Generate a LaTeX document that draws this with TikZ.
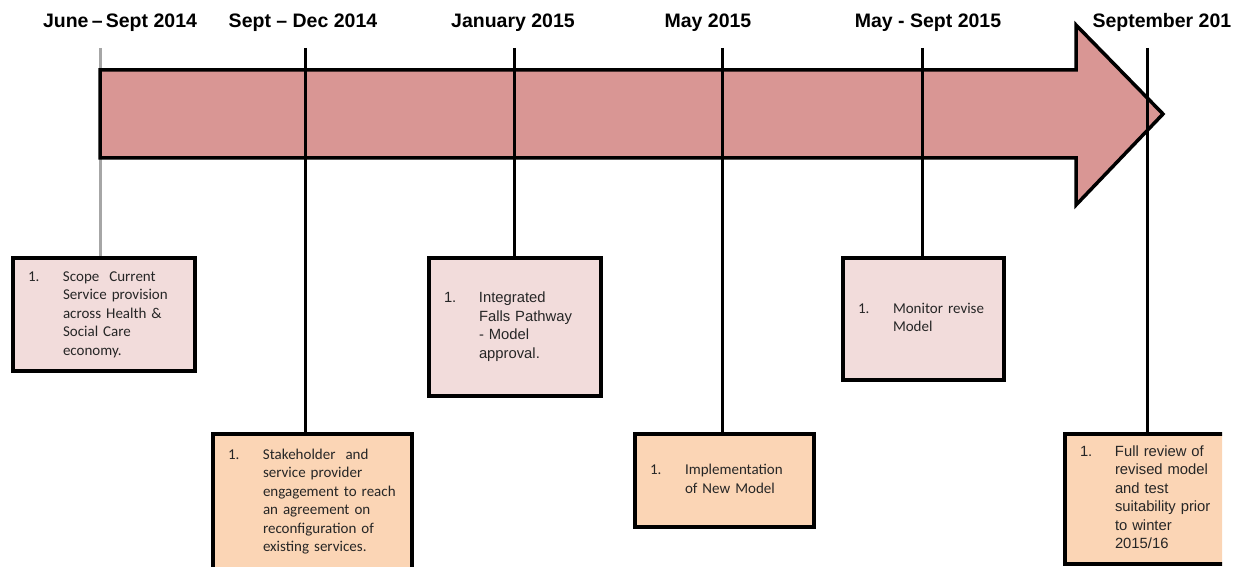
\documentclass[tikz,border=0pt]{standalone}
\usepackage{fontspec}
\setmainfont{Liberation Sans}
\newfontfamily\calfont{Carlito}
\usetikzlibrary{positioning}

\definecolor{arrowred}{RGB}{217,150,148}
\definecolor{stagepink}{RGB}{242,220,219}
\definecolor{stagepeach}{RGB}{251,213,181}

\tikzset{
  datelabel/.style={font=\fontsize{19.5}{22}\selectfont\bfseries, anchor=base},
  stage/.style={draw, line width=4pt, inner xsep=15pt, inner ysep=0pt,
                anchor=north west, text=black!85, align=left},
  milestone/.style={line width=3pt},
}
\newcommand{\firstitem}[1]{\makebox[35pt][l]{1.}\begin{tabular}[t]{@{}l@{}}#1\end{tabular}}

\begin{document}
\begin{tikzpicture}[x=1pt, y=-1pt]

    \useasboundingbox (0, 0) rectangle (1235, 567);
    \clip (0, 0) rectangle (1235, 567);

    % Dates
    \node[datelabel] (d1) at (120, 28) {June\,--\,Sept 2014};
    \node[datelabel] (d2) at (303, 28) {Sept -- Dec 2014};
    \node[datelabel] (d3) at (513, 28) {January 2015};
    \node[datelabel] (d4) at (708, 28) {May 2015};
    \node[datelabel] (d5) at (928, 28) {May - Sept 2015};
    \node[datelabel, anchor=base west] (d6) at (1089, 28) {September 201};

    \coordinate (t1) at (100, 48);
    \coordinate (t2) at (305, 48);
    \coordinate (t3) at (514, 48);
    \coordinate (t4) at (722, 48);
    \coordinate (t5) at (922, 48);
    \coordinate (t6) at (1147, 48);

    % Stages
    \node[stage, fill=stagepink, text width=152pt, minimum height=113pt,
          font=\calfont\fontsize{15}{18.5}\selectfont] (s1) at (11, 256)
        {\firstitem{Scope\ \ Current\\Service provision\\across Health \&\\Social Care\\economy.}};
    \node[stage, fill=stagepeach, text width=169pt, minimum height=136pt,
          font=\calfont\fontsize{15}{18.5}\selectfont] (s2) at (211, 432)
        {\firstitem{Stakeholder\ \ and\\service provider\\engagement\ to reach\\an agreement\ on\\reconfiguration\ of\\existing services.}};
    \node[stage, fill=stagepink, text width=142pt, minimum height=138pt,
          font=\fontsize{14.8}{18.5}\selectfont] (s3) at (427, 256)
        {\firstitem{Integrated\\Falls Pathway\\- Model\\approval.}};
    \node[stage, fill=stagepeach, text width=149pt, minimum height=93pt,
          font=\calfont\fontsize{15}{18.5}\selectfont] (s4) at (633, 432)
        {\firstitem{Implementation\\of New Model}};
    \node[stage, fill=stagepink, text width=131pt, minimum height=122pt,
          font=\calfont\fontsize{15}{18.5}\selectfont] (s5) at (841, 256)
        {\firstitem{Monitor revise\\Model}};
    \begin{scope}
        \clip (0, 0) rectangle (1222, 567);
        \node[stage, fill=stagepeach, text width=170pt, minimum height=130pt,
              font=\fontsize{14.8}{18.5}\selectfont] (s6) at (1063, 432)
            {\firstitem{Full review of\\revised model\\and test\\suitability prior\\to winter\\2015/16}};
    \end{scope}

    % Timeline
    \draw[milestone, gray!70] (t1) -- (t1 |- s1.north);
    \draw[line width=3.5pt, fill=arrowred]
        (100, 70) -- (1076, 70) -- (1076, 25) -- (1163, 114)
        -- (1076, 205) -- (1076, 158) -- (100, 158) -- cycle;
    \draw[milestone] (t2) -- (t2 |- s2.north);
    \draw[milestone] (t3) -- (t3 |- s3.north);
    \draw[milestone] (t4) -- (t4 |- s4.north);
    \draw[milestone] (t5) -- (t5 |- s5.north);
    \draw[milestone] (t6) -- (t6 |- s6.north);

\end{tikzpicture}
\end{document}
